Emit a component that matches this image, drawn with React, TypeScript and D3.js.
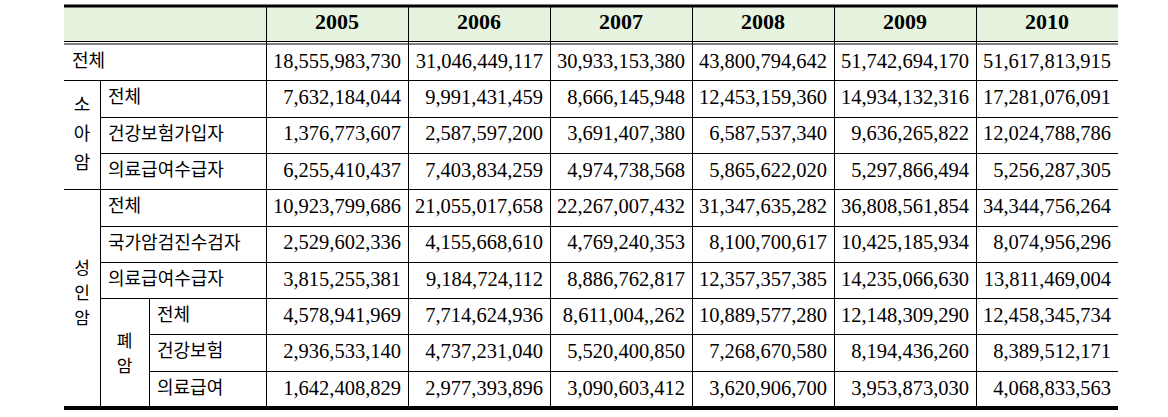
import React from "react";
import * as d3 from "d3";

const years = ["2005", "2006", "2007", "2008", "2009", "2010"];

const rowLabels = [
  "전체",
  "전체",
  "건강보험가입자",
  "의료급여수급자",
  "전체",
  "국가암검진수검자",
  "의료급여수급자",
  "전체",
  "건강보험",
  "의료급여",
];
const rowLevels = [0, 1, 1, 1, 1, 1, 1, 2, 2, 2];

const totalAll = ["18,555,983,730", "31,046,449,117", "30,933,153,380", "43,800,794,642", "51,742,694,170", "51,617,813,915"];
const childTotal = ["7,632,184,044", "9,991,431,459", "8,666,145,948", "12,453,159,360", "14,934,132,316", "17,281,076,091"];
const childInsured = ["1,376,773,607", "2,587,597,200", "3,691,407,380", "6,587,537,340", "9,636,265,822", "12,024,788,786"];
const childMedicalAid = ["6,255,410,437", "7,403,834,259", "4,974,738,568", "5,865,622,020", "5,297,866,494", "5,256,287,305"];
const adultTotal = ["10,923,799,686", "21,055,017,658", "22,267,007,432", "31,347,635,282", "36,808,561,854", "34,344,756,264"];
const adultScreened = ["2,529,602,336", "4,155,668,610", "4,769,240,353", "8,100,700,617", "10,425,185,934", "8,074,956,296"];
const adultMedicalAid = ["3,815,255,381", "9,184,724,112", "8,886,762,817", "12,357,357,385", "14,235,066,630", "13,811,469,004"];
const lungTotal = ["4,578,941,969", "7,714,624,936", "8,611,004,,262", "10,889,577,280", "12,148,309,290", "12,458,345,734"];
const lungInsurance = ["2,936,533,140", "4,737,231,040", "5,520,400,850", "7,268,670,580", "8,194,436,260", "8,389,512,171"];
const lungMedicalAid = ["1,642,408,829", "2,977,393,896", "3,090,603,412", "3,620,906,700", "3,953,873,030", "4,068,833,563"];

const rowValues = [
  totalAll,
  childTotal,
  childInsured,
  childMedicalAid,
  adultTotal,
  adultScreened,
  adultMedicalAid,
  lungTotal,
  lungInsurance,
  lungMedicalAid,
];

const groupChild = ["소", "아", "암"];
const groupAdult = ["성", "인", "암"];
const groupLung = ["폐", "암"];

const W = 1168;
const H = 417;
const tableLeft = 64;
const labelRight = 266;
const tableRight = 1118;
const subX1 = 100;
const subX2 = 149;
const topY = 6;
const headBottom = 44;
const bottomY = 407;

const numFont = "'Liberation Serif', 'Times New Roman', serif";
const korFont = "'Noto Sans CJK KR', 'Noto Sans', sans-serif";

export default function App() {
  const x = d3.scaleBand<string>().domain(years).range([labelRight, tableRight]);
  const rowIdx = d3.range(rowLabels.length).map(String);
  const y = d3.scaleBand<string>().domain(rowIdx).range([headBottom, bottomY]);
  const rowTop = (i: number) => y(String(i)) as number;
  const bw = y.bandwidth();

  const sepStart = (i: number) => {
    if (i === 0 || i === 3) return tableLeft;
    if (i === 7 || i === 8) return subX2;
    return subX1;
  };

  const labelX = (lvl: number) => (lvl === 0 ? tableLeft : lvl === 1 ? subX1 : subX2) + 8;

  const childMid = (rowTop(1) + rowTop(4)) / 2;
  const adultMid = (rowTop(4) + bottomY) / 2 - 4;
  const lungMid = (rowTop(7) + bottomY) / 2 + 2;

  return (
    <svg
      width={W}
      height={H}
      style={{ display: "block", position: "absolute", left: 0, top: 0, background: "#fff" }}
    >
      <rect x={tableLeft} y={topY} width={tableRight - tableLeft} height={headBottom - 3 - topY} fill="#E6F3DE" />
      {years.map((yr) => (
        <text
          key={yr}
          x={(x(yr) as number) + x.bandwidth() / 2}
          y={24}
          textAnchor="middle"
          dominantBaseline="middle"
          fontFamily={numFont}
          fontWeight="bold"
          fontSize={22}
          fill="#000"
        >
          {yr}
        </text>
      ))}
      {rowValues.map((vals, i) =>
        vals.map((v, j) => (
          <text
            key={`${i}-${j}`}
            x={(x(years[j]) as number) + x.bandwidth() - 7}
            y={rowTop(i) + bw / 2 + 1}
            textAnchor="end"
            dominantBaseline="middle"
            fontFamily={numFont}
            fontSize={20.5}
            fill="#000"
          >
            {v}
          </text>
        ))
      )}
      {rowLabels.map((lab, i) => (
        <text
          key={`lab-${i}`}
          x={labelX(rowLevels[i])}
          y={rowTop(i) + bw / 2}
          dominantBaseline="middle"
          fontFamily={korFont}
          fontSize={18}
          fill="#000"
        >
          {lab}
        </text>
      ))}
      {groupChild.map((c, k) => (
        <text
          key={`gc-${k}`}
          x={(tableLeft + subX1) / 2}
          y={childMid + (k - 1) * 29}
          textAnchor="middle"
          dominantBaseline="middle"
          fontFamily={korFont}
          fontSize={18}
          fill="#000"
        >
          {c}
        </text>
      ))}
      {groupAdult.map((c, k) => (
        <text
          key={`ga-${k}`}
          x={(tableLeft + subX1) / 2}
          y={adultMid + (k - 1) * 25}
          textAnchor="middle"
          dominantBaseline="middle"
          fontFamily={korFont}
          fontSize={17}
          fill="#000"
        >
          {c}
        </text>
      ))}
      {groupLung.map((c, k) => (
        <text
          key={`gl-${k}`}
          x={(subX1 + subX2) / 2}
          y={lungMid + (k - 0.5) * 25}
          textAnchor="middle"
          dominantBaseline="middle"
          fontFamily={korFont}
          fontSize={17}
          fill="#000"
        >
          {c}
        </text>
      ))}
      <line x1={tableLeft} x2={tableRight} y1={topY} y2={topY} stroke="#000" strokeWidth={3} />
      <line x1={tableLeft} x2={tableRight} y1={41.5} y2={41.5} stroke="#000" strokeWidth={1} />
      <line x1={tableLeft} x2={tableRight} y1={44} y2={44} stroke="#000" strokeWidth={1} />
      {d3.range(rowLabels.length - 1).map((i) => (
        <line
          key={`h-${i}`}
          x1={sepStart(i)}
          x2={tableRight}
          y1={Math.round(rowTop(i + 1)) + 0.5}
          y2={Math.round(rowTop(i + 1)) + 0.5}
          stroke="#000"
          strokeWidth={1}
        />
      ))}
      <line x1={tableLeft} x2={tableRight} y1={bottomY + 1} y2={bottomY + 1} stroke="#000" strokeWidth={4} />
      {[labelRight, ...years.slice(1).map((yr) => x(yr) as number)].map((xx, k) => (
        <line key={`v-${k}`} x1={xx + 0.5} x2={xx + 0.5} y1={topY} y2={bottomY} stroke="#000" strokeWidth={1} />
      ))}
      <line x1={subX1 + 0.5} x2={subX1 + 0.5} y1={rowTop(1)} y2={bottomY} stroke="#000" strokeWidth={1} />
      <line x1={subX2 + 0.5} x2={subX2 + 0.5} y1={rowTop(7)} y2={bottomY} stroke="#000" strokeWidth={1} />
    </svg>
  );
}
